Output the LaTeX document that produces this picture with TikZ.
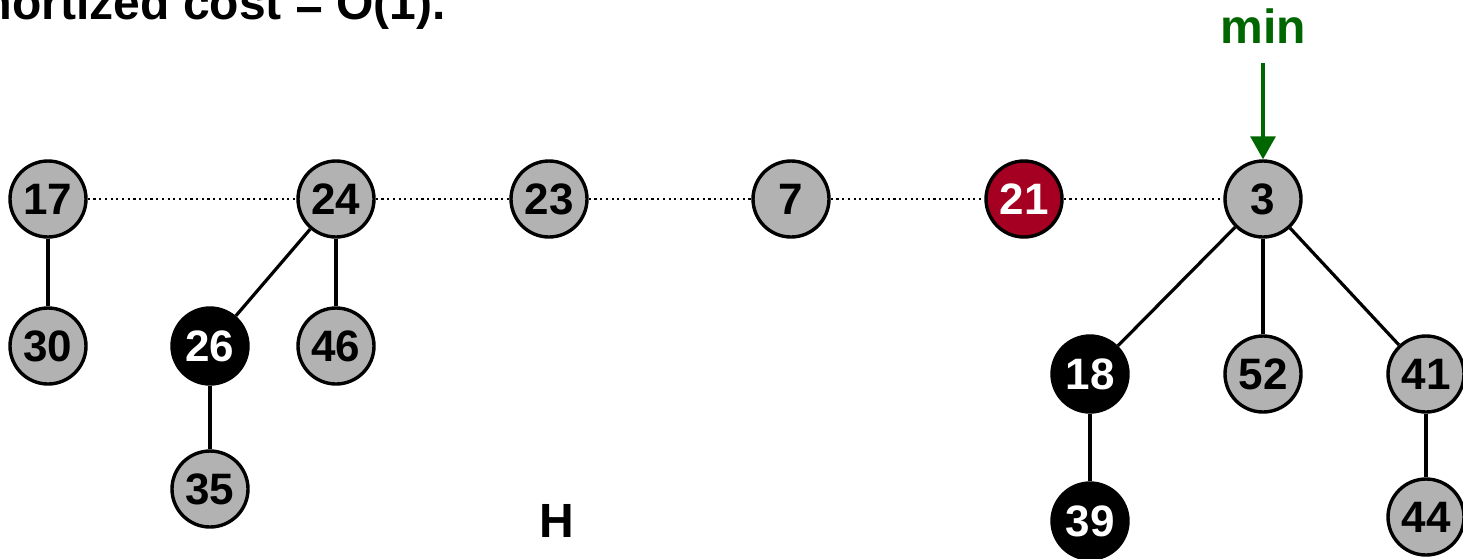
\documentclass[tikz,border=0pt]{standalone}
\usepackage{fontspec}
\setmainfont{Liberation Sans}
\usetikzlibrary{arrows.meta}

\definecolor{nodegray}{RGB}{178,178,178}
\definecolor{markred}{RGB}{165,0,33}
\definecolor{mingreen}{RGB}{0,102,0}

\tikzset{
  heapnode/.style={circle, draw=black, line width=3.4pt, fill=nodegray,
    minimum size=76pt, inner sep=0pt,
    font=\fontsize{44}{44}\selectfont\bfseries, text=black},
  marked/.style={heapnode, fill=black, text=white},
  picked/.style={heapnode, fill=markred, text=white},
  tree/.style={line width=3.2pt, draw=black},
  rootlist/.style={line width=2.4pt, draw=black, dash pattern=on 2.2pt off 3.5pt},
  bigtext/.style={font=\fontsize{48}{48}\selectfont\bfseries, inner sep=0pt},
}

\begin{document}
\begin{tikzpicture}[x=1pt, y=-1pt]
  \clip (0,0) rectangle (1463,558);
  \fill[white] (0,0) rectangle (1463,558);

  % heading, running past the top edge
  \node[bigtext, anchor=base east] (title) at (446,19) {Amortized cost = O(1).};

  % root list
  \node[heapnode] (n17) at (48,199) {17};
  \node[heapnode] (n24) at (336,199) {24};
  \node[heapnode] (n23) at (549,199) {23};
  \node[heapnode] (n7)  at (791,199) {7};
  \node[picked]   (n21) at (1024,199) {21};
  \node[heapnode] (n3)  at (1263,199) {3};

  % children
  \node[heapnode] (n30) at (48,346) {30};
  \node[marked]   (n26) at (210,346) {26};
  \node[heapnode] (n46) at (336,346) {46};
  \node[heapnode] (n35) at (210,489) {35};
  \node[marked]   (n18) at (1090,374) {18};
  \node[heapnode] (n52) at (1263,374) {52};
  \node[heapnode] (n41) at (1426,374) {41};
  \node[marked]   (n39) at (1090,521) {39};
  \node[heapnode] (n44) at (1426,517) {44};

  % root list links
  \draw[rootlist] (n17) -- (n24);
  \draw[rootlist] (n24) -- (n23);
  \draw[rootlist] (n23) -- (n7);
  \draw[rootlist] (n7)  -- (n21);
  \draw[rootlist] (n21) -- (n3);

  % tree edges
  \draw[tree] (n17) -- (n30);
  \draw[tree] (n24) -- (n26);
  \draw[tree] (n24) -- (n46);
  \draw[tree] (n26) -- (n35);
  \draw[tree] (n3) -- (n18);
  \draw[tree] (n3) -- (n52);
  \draw[tree] (n3) -- (n41);
  \draw[tree] (n18) -- (n39);
  \draw[tree] (n41) -- (n44);

  % min pointer
  \node[bigtext, text=mingreen, anchor=base] (minlabel) at (1263,43) {min};
  \coordinate (mintail) at (1263,63);
  \draw[mingreen, line width=3.2pt, -{Triangle[width=25pt,length=23pt]}]
    (mintail) -- (n3.north);

  % heap name
  \node[bigtext, anchor=base] (hname) at (557,537) {H};
\end{tikzpicture}
\end{document}
